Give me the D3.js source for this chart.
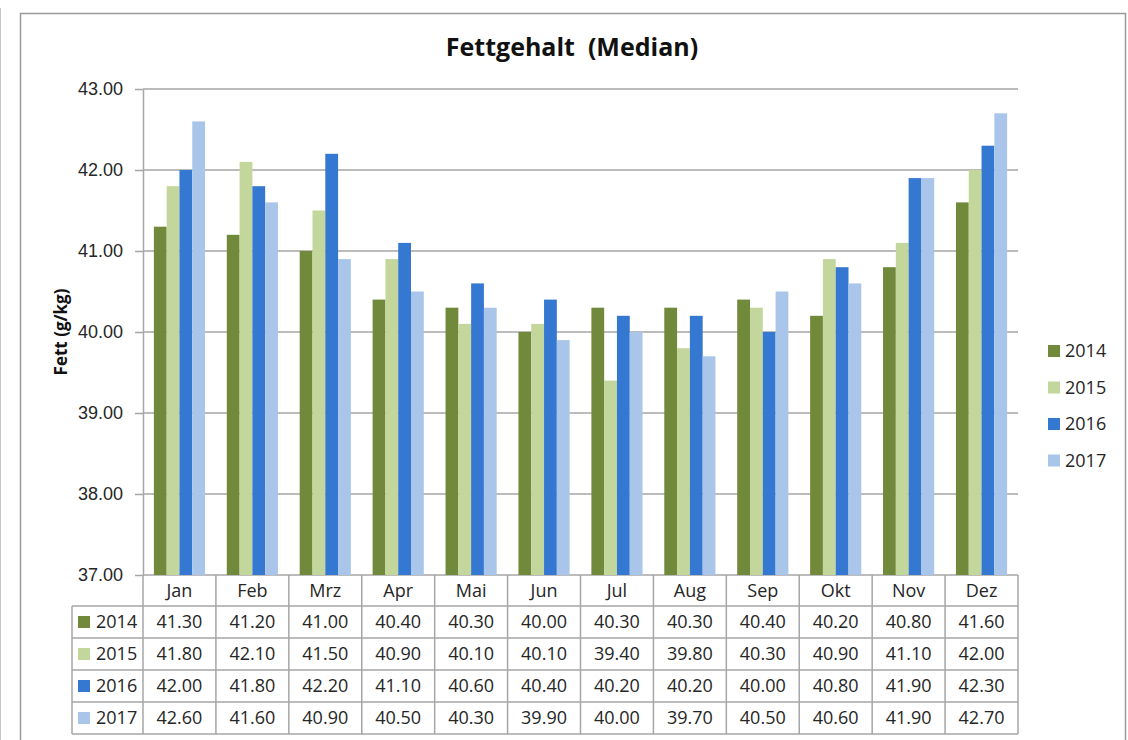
<!DOCTYPE html>
<html>
<head>
<meta charset="utf-8">
<script src="https://cdn.jsdelivr.net/npm/d3@7"></script>
<style>
  body { margin: 0; background: #fff; }
  svg { display: block; font-family: "Open Sans", sans-serif; }
  .axis text { fill: #262626; font-size: 18px; }
</style>
</head>
<body>
<div id="graph"></div>
<script>
// chart data
var months = ['Jan', 'Feb', 'Mrz', 'Apr', 'Mai', 'Jun', 'Jul', 'Aug', 'Sep', 'Okt', 'Nov', 'Dez'];
var years = ['2014', '2015', '2016', '2017'];
var values2014 = [41.3, 41.2, 41.0, 40.4, 40.3, 40.0, 40.3, 40.3, 40.4, 40.2, 40.8, 41.6];
var values2015 = [41.8, 42.1, 41.5, 40.9, 40.1, 40.1, 39.4, 39.8, 40.3, 40.9, 41.1, 42.0];
var values2016 = [42.0, 41.8, 42.2, 41.1, 40.6, 40.4, 40.2, 40.2, 40.0, 40.8, 41.9, 42.3];
var values2017 = [42.6, 41.6, 40.9, 40.5, 40.3, 39.9, 40.0, 39.7, 40.5, 40.6, 41.9, 42.7];
var yTicks = [37, 38, 39, 40, 41, 42, 43];
var colors = ['#71893a', '#c3d69b', '#3578d1', '#a9c6ea'];

var series = [values2014, values2015, values2016, values2017].map(function (vals, i) {
  return {year: years[i], color: colors[i], values: vals};
});

var width = 1128, height = 740;
var plot = {left: 143, right: 1018, top: 89, bottom: 575};
var rowHeight = 32, headerHeight = 31, legendColLeft = 72;
var gridColor = '#a6a6a6', textColor = '#262626';
var fmt = d3.format('.2f');

var svg = d3.select('#graph')
  .append('svg')
  .attr('width', width)
  .attr('height', height);

// page edge + chart frame
svg.append('line')
  .attr('x1', 0.5).attr('x2', 0.5).attr('y1', 8).attr('y2', height)
  .attr('stroke', '#c8c8c8');
svg.append('rect')
  .attr('x', 20.5).attr('y', 13.5)
  .attr('width', 1105).attr('height', 760)
  .attr('fill', 'none')
  .attr('stroke', '#9a9a9a')
  .attr('stroke-width', 1.5);

// title
svg.append('text')
  .attr('x', 572).attr('y', 56)
  .attr('text-anchor', 'middle')
  .style('white-space', 'pre')
  .style('font-size', '25px')
  .style('font-weight', 'bold')
  .attr('fill', '#111')
  .text('Fettgehalt  (Median)');

var x = d3.scaleBand().domain(months).range([plot.left, plot.right]);
var xInner = d3.scaleBand().domain(years).range([0, x.bandwidth()]).paddingOuter(0.85);
var y = d3.scaleLinear().domain([37, 43]).range([plot.bottom, plot.top]);

// gridlines
svg.append('g')
  .selectAll('line')
  .data(yTicks)
  .enter()
  .append('line')
  .attr('x1', plot.left).attr('x2', plot.right)
  .attr('y1', function (d) { return y(d); })
  .attr('y2', function (d) { return y(d); })
  .attr('stroke', gridColor)
  .attr('stroke-width', 1.5);

// bars
var groups = svg.append('g')
  .selectAll('g')
  .data(series)
  .enter()
  .append('g')
  .attr('fill', function (d) { return d.color; });

groups.selectAll('rect')
  .data(function (s) {
    return s.values.map(function (v, i) { return {year: s.year, month: months[i], value: v}; });
  })
  .enter()
  .append('rect')
  .attr('x', function (d) { return x(d.month) + xInner(d.year); })
  .attr('width', xInner.bandwidth())
  .attr('y', function (d) { return y(d.value); })
  .attr('height', function (d) { return y(37) - y(d.value); });

// y axis
var yAxis = svg.append('g')
  .attr('class', 'axis')
  .attr('transform', 'translate(' + plot.left + ',0)')
  .call(d3.axisLeft(y).tickValues(yTicks).tickFormat(fmt).tickSize(8).tickSizeOuter(0).tickPadding(12));
yAxis.select('.domain').attr('stroke', gridColor).attr('stroke-width', 1.5);
yAxis.selectAll('.tick line').attr('stroke', gridColor).attr('stroke-width', 1.5);

svg.append('text')
  .attr('transform', 'translate(67,' + ((plot.top + plot.bottom) / 2) + ') rotate(-90)')
  .attr('text-anchor', 'middle')
  .style('font-size', '17px')
  .style('font-weight', 'bold')
  .attr('fill', '#111')
  .text('Fett (g/kg)');

// data table
var table = svg.append('g');
var tableTop = plot.bottom;
var rowsTop = tableTop + headerHeight;
var tableBottom = rowsTop + rowHeight * years.length;

// horizontal lines of the table
table.selectAll('line.h')
  .data(d3.range(years.length + 1))
  .enter()
  .append('line')
  .attr('x1', legendColLeft).attr('x2', plot.right)
  .attr('y1', function (i) { return rowsTop + i * rowHeight; })
  .attr('y2', function (i) { return rowsTop + i * rowHeight; })
  .attr('stroke', gridColor)
  .attr('stroke-width', 1.5);

// vertical lines of the table
table.selectAll('line.v')
  .data(months.concat(['end']))
  .enter()
  .append('line')
  .attr('x1', function (d) { return d === 'end' ? plot.right : x(d); })
  .attr('x2', function (d) { return d === 'end' ? plot.right : x(d); })
  .attr('y1', tableTop).attr('y2', tableBottom)
  .attr('stroke', gridColor)
  .attr('stroke-width', 1.5);
table.append('line')
  .attr('x1', legendColLeft).attr('x2', legendColLeft)
  .attr('y1', rowsTop).attr('y2', tableBottom)
  .attr('stroke', gridColor)
  .attr('stroke-width', 1.5);

// month headers
table.selectAll('text.month')
  .data(months)
  .enter()
  .append('text')
  .attr('x', function (d) { return x(d) + x.bandwidth() / 2; })
  .attr('y', tableTop + headerHeight / 2 + 6)
  .attr('text-anchor', 'middle')
  .attr('fill', textColor)
  .style('font-size', '18px')
  .text(function (d) { return d; });

// table rows
var rows = table.selectAll('g.row')
  .data(series)
  .enter()
  .append('g')
  .attr('transform', function (d, i) { return 'translate(0,' + (rowsTop + i * rowHeight) + ')'; });

rows.append('rect')
  .attr('x', 78).attr('y', rowHeight / 2 - 6)
  .attr('width', 12).attr('height', 12)
  .attr('fill', function (d) { return d.color; });
rows.append('text')
  .attr('x', 96).attr('y', rowHeight / 2 + 6)
  .attr('fill', textColor)
  .style('font-size', '18px')
  .text(function (d) { return d.year; });

rows.selectAll('text.val')
  .data(function (s) { return s.values; })
  .enter()
  .append('text')
  .attr('x', function (d, i) { return x(months[i]) + x.bandwidth() / 2; })
  .attr('y', rowHeight / 2 + 6)
  .attr('text-anchor', 'middle')
  .attr('fill', textColor)
  .style('font-size', '18px')
  .text(function (d) { return fmt(d); });

// legend on the right
var legend = svg.append('g')
  .selectAll('g')
  .data(series)
  .enter()
  .append('g')
  .attr('transform', function (d, i) { return 'translate(1048,' + (351 + i * 36.5) + ')'; });
legend.append('rect')
  .attr('x', 0).attr('y', -6)
  .attr('width', 12).attr('height', 12)
  .attr('fill', function (d) { return d.color; });
legend.append('text')
  .attr('x', 17).attr('y', 6)
  .attr('fill', textColor)
  .style('font-size', '18px')
  .text(function (d) { return d.year; });
</script>
</body>
</html>
